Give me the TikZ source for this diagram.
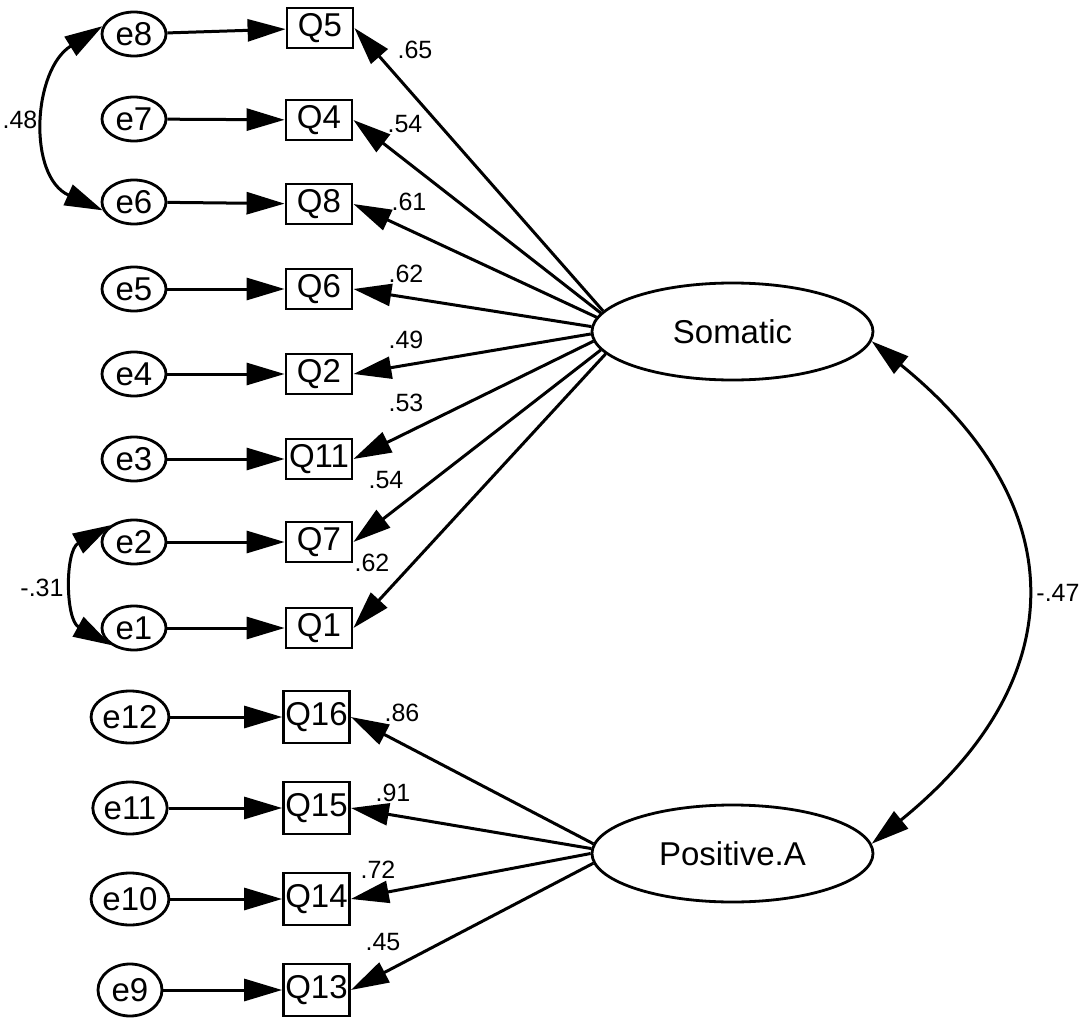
\documentclass[tikz,border=0pt]{standalone}
\usepackage{fontspec}
\setmainfont{Liberation Sans}
\usetikzlibrary{shapes.geometric,arrows.meta}

\begin{document}
\begin{tikzpicture}[x=0.5pt,y=-0.5pt,
  err/.style={draw,ellipse,line width=1.4pt,inner sep=0pt,minimum width=32pt,minimum height=22pt,font=\fontsize{16.5}{19}\selectfont},
  errb/.style={err,minimum height=26pt},
  item/.style={draw,rectangle,line width=1.4pt,inner sep=0pt,minimum width=33pt,minimum height=20pt,font=\fontsize{16.5}{19}\selectfont},
  itemb/.style={item,minimum height=26pt},
  factor/.style={draw,ellipse,line width=1.4pt,inner sep=0pt,minimum width=140.5pt,minimum height=48.5pt,font=\fontsize{16.5}{19}\selectfont},
  path/.style={line width=1.5pt,-{Triangle[length=19pt,width=11pt]}},
  covar/.style={line width=1.5pt,{Triangle[length=19pt,width=11pt]}-{Triangle[length=19pt,width=11pt]}},
  coef/.style={inner sep=0pt,font=\fontsize{12.5}{14}\selectfont}]
\useasboundingbox (0,0) rectangle (1084,1023);
% the two factors
\node[factor] (Somatic) at (732.5,331.5) {Somatic};
\node[factor] (Positive) at (732.5,853.5) {Positive.A};
%% the items of Somatic
\node[item] (Q5) at (320,28) {Q5};
\node[item] (Q4) at (319,120) {Q4};
\node[item] (Q8) at (319,204) {Q8};
\node[item] (Q6) at (319,289) {Q6};
\node[item] (Q2) at (319,374) {Q2};
\node[item] (Q11) at (319,459) {Q11};
\node[item] (Q7) at (319,542) {Q7};
\node[item] (Q1) at (319,628) {Q1};
%% the items of Positive.A
\node[itemb] (Q16) at (316.5,717) {Q16};
\node[itemb] (Q15) at (316.5,808) {Q15};
\node[itemb] (Q14) at (316.5,899) {Q14};
\node[itemb] (Q13) at (316.5,990) {Q13};
%% the errors
\node[err] (e8) at (134,34) {e8};
\node[err] (e7) at (134,119) {e7};
\node[err] (e6) at (134,202) {e6};
\node[err] (e5) at (134,289) {e5};
\node[err] (e4) at (134,374) {e4};
\node[err] (e3) at (134,459) {e3};
\node[err] (e2) at (134,542) {e2};
\node[err] (e1) at (134,628) {e1};
\node[errb] (e12) at (130,717) {e12};
\node[errb] (e11) at (130,808) {e11};
\node[errb] (e10) at (130,899) {e10};
\node[errb] (e9) at (130,990) {e9};
% errors to items
\draw[path] (e8) -- (Q5);
\draw[path] (e7) -- (Q4);
\draw[path] (e6) -- (Q8);
\draw[path] (e5) -- (Q6);
\draw[path] (e4) -- (Q2);
\draw[path] (e3) -- (Q11);
\draw[path] (e2) -- (Q7);
\draw[path] (e1) -- (Q1);
\draw[path] (e12) -- (Q16);
\draw[path] (e11) -- (Q15);
\draw[path] (e10) -- (Q14);
\draw[path] (e9) -- (Q13);
% factor loadings
\draw[path] (Somatic.171) -- (Q5.east);
\draw[path] (Somatic.172) -- (Q4.east);
\draw[path] (Somatic.174) -- (Q8.east);
\draw[path] (Somatic.178) -- (Q6.east);
\draw[path] (Somatic.181.5) -- (Q2.east);
\draw[path] (Somatic.184.5) -- (Q11.east);
\draw[path] (Somatic.188) -- (Q7.east);
\draw[path] (Somatic.190) -- (Q1.east);
\draw[path] (Positive.176) -- (Q16.east);
\draw[path] (Positive.178.5) -- (Q15.east);
\draw[path] (Positive.180.5) -- (Q14.east);
\draw[path] (Positive.184) -- (Q13.east);
% covariances
\draw[covar] (Somatic.-4) to[out=-39,in=39,looseness=1.33] (Positive.4);
\draw[covar] (e8.166) to[out=212,in=156,looseness=1.15] (e6.195);
\draw[covar] (e2.144) to[out=209,in=151,looseness=1.12] (e1.217);
%% the estimates
\node[coef] (cQ5) at (415,50) {.65};
\node[coef] (cQ4) at (405,124) {.54};
\node[coef] (cQ8) at (409,202) {.61};
\node[coef] (cQ6) at (406,274) {.62};
\node[coef] (cQ2) at (406,340) {.49};
\node[coef] (cQ11) at (406,403) {.53};
\node[coef] (cQ7) at (386,480) {.54};
\node[coef] (cQ1) at (372,563) {.62};
\node[coef] (cQ16) at (402,713) {.86};
\node[coef] (cQ15) at (393,793) {.91};
\node[coef] (cQ14) at (378,870) {.72};
\node[coef] (cQ13) at (383,942) {.45};
\node[coef] (c68) at (20,120) {.48};
\node[coef] (c12) at (42,588) {-.31};
\node[coef] (cSP) at (1058,593) {-.47};
\end{tikzpicture}
\end{document}
